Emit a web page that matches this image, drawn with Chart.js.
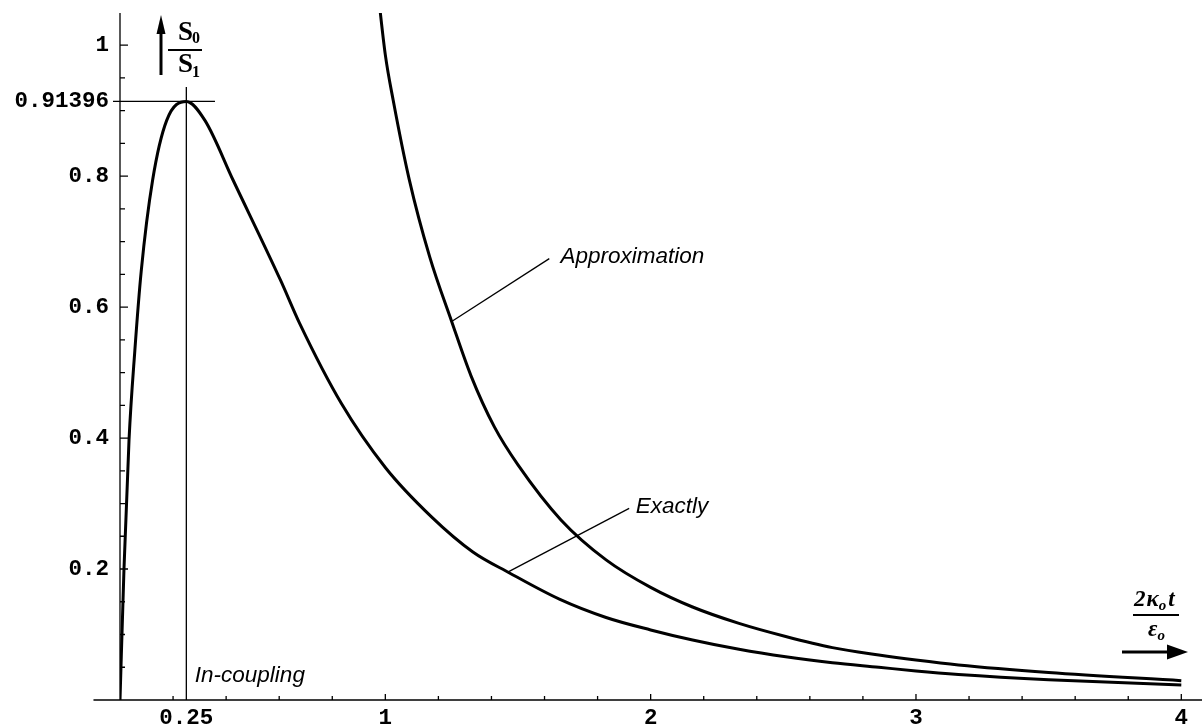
<!DOCTYPE html>
<html><head><meta charset="utf-8">
<script src="https://cdn.jsdelivr.net/npm/chart.js@4/dist/chart.umd.min.js"></script>
<style>html,body{margin:0;padding:0;background:#fff;}canvas{display:block}</style>
</head><body>
<canvas id="c" width="1202" height="728"></canvas>
<script>
// ---- data ----
const exactX = [0, 0.015, 0.034, 0.056, 0.08, 0.123, 0.176, 0.25, 0.32, 0.426, 0.605, 0.677, 0.834, 1.0, 1.173, 1.33, 1.468, 1.656, 1.832, 2.0, 2.158, 2.333, 2.509, 2.685, 2.86, 3.0, 3.16, 3.5, 4.0];
const exactY = [0, 0.2, 0.397, 0.534, 0.655, 0.794, 0.885, 0.91396, 0.885, 0.794, 0.641, 0.575, 0.453, 0.355, 0.280, 0.226, 0.194, 0.154, 0.126, 0.107, 0.0916, 0.0774, 0.066, 0.057, 0.050, 0.0443, 0.039, 0.031, 0.023];
const approxX = [0.97, 1.0, 1.03, 1.09, 1.167, 1.25, 1.323, 1.411, 1.5, 1.662, 1.832, 2.0, 2.158, 2.333, 2.509, 2.685, 2.86, 3.0, 3.16, 3.5, 4.0];
const approxY = [1.09, 0.985, 0.915, 0.795, 0.677, 0.578, 0.495, 0.417, 0.359, 0.275, 0.214, 0.172, 0.142, 0.117, 0.097, 0.080, 0.0687, 0.061, 0.0534, 0.042, 0.0295];
const xTickValues = [0.25, 1, 2, 3, 4];
const xTickLabels = ['0.25', '1', '2', '3', '4'];
const yTickValues = [0.2, 0.4, 0.6, 0.8, 0.91396, 1];
const yTickLabels = ['0.2', '0.4', '0.6', '0.8', '0.91396', '1'];
const peakX = 0.25;
const peakY = 0.91396;
const labelTexts = ['Approximation', 'Exactly', 'In-coupling'];

// ---- build ----
const toPts = (xs, ys) => xs.map((x, i) => ({x, y: ys[i]}));

const notes = [
  {text: labelTexts[0], at: [1.66, 0.667], from: [1.618, 0.674], to: [1.25, 0.578]},
  {text: labelTexts[1], at: [1.944, 0.285], from: [1.919, 0.2927], to: [1.465, 0.196]},
  {text: labelTexts[2], at: [0.282, 0.028]}
];

const TICKFONT = {family: '"Liberation Mono", monospace', weight: 'bold', size: 22.5};

const decor = {
  id: 'decor',
  beforeDatasetsDraw(chart) {
    const {ctx, chartArea: ca, scales: {x: xs, y: ys}} = chart;
    const x0 = xs.getPixelForValue(0), y0 = ys.getPixelForValue(0);
    ctx.save();
    ctx.strokeStyle = '#000';
    ctx.lineWidth = 1.3;
    ctx.beginPath();
    ctx.moveTo(xs.getPixelForValue(-0.1), y0); ctx.lineTo(ca.right, y0);
    ctx.moveTo(x0, ca.top); ctx.lineTo(x0, y0);
    // y ticks (inward)
    for (let k = 1; k <= 21; k++) {
      const v = k * 0.05; if (v > ys.max) break;
      const major = k % 4 === 0;
      const p = ys.getPixelForValue(v);
      ctx.moveTo(x0, p); ctx.lineTo(x0 + (major ? 8 : 5), p);
    }
    // x ticks (inward)
    for (let k = 1; k <= 20; k++) {
      const v = k * 0.2;
      const major = k % 5 === 0;
      const p = xs.getPixelForValue(v);
      ctx.moveTo(p, y0); ctx.lineTo(p, y0 - (major ? 6 : 4));
    }
    ctx.stroke();
    // peak marker lines
    ctx.beginPath();
    const py = ys.getPixelForValue(peakY), px = xs.getPixelForValue(peakX);
    ctx.moveTo(x0 - 7, py); ctx.lineTo(xs.getPixelForValue(0.358), py);
    ctx.moveTo(px, ys.getPixelForValue(0.936)); ctx.lineTo(px, y0);
    ctx.stroke();
    ctx.restore();
  },
  afterDatasetsDraw(chart) {
    const {ctx, chartArea: ca, scales: {x: xs, y: ys}} = chart;
    ctx.save();
    ctx.fillStyle = '#000'; ctx.strokeStyle = '#000';
    // annotations
    ctx.lineWidth = 1.3;
    ctx.font = 'italic 22.5px "Liberation Sans", Arial, sans-serif';
    ctx.textBaseline = 'alphabetic'; ctx.textAlign = 'left';
    notes.forEach(n => {
      if (n.from) {
        ctx.beginPath();
        ctx.moveTo(xs.getPixelForValue(n.from[0]), ys.getPixelForValue(n.from[1]));
        ctx.lineTo(xs.getPixelForValue(n.to[0]), ys.getPixelForValue(n.to[1]));
        ctx.stroke();
      }
      ctx.fillText(n.text, xs.getPixelForValue(n.at[0]), ys.getPixelForValue(n.at[1]));
    });
    // y axis title: arrow + S0/S1
    const x0 = xs.getPixelForValue(0);
    const ax = x0 + 41, t = ca.top;
    ctx.lineWidth = 3;
    ctx.beginPath(); ctx.moveTo(ax, t + 62); ctx.lineTo(ax, t + 18); ctx.stroke();
    ctx.beginPath(); ctx.moveTo(ax - 4.5, t + 21); ctx.lineTo(ax + 4.5, t + 21); ctx.lineTo(ax, t + 2); ctx.closePath(); ctx.fill();
    const fx = x0 + 58;
    ctx.font = 'bold 27px "Liberation Serif", serif';
    ctx.fillText('S', fx, t + 27);
    ctx.fillText('S', fx, t + 59);
    const sw = ctx.measureText('S').width;
    ctx.font = 'bold 16px "Liberation Serif", serif';
    ctx.fillText('0', fx + sw - 1, t + 30);
    ctx.fillText('1', fx + sw - 1, t + 64);
    ctx.fillRect(x0 + 48, t + 36, 34, 2);
    // x axis title
    const r = ca.right, b = ys.getPixelForValue(0);
    ctx.font = 'bold italic 23px "Liberation Serif", serif';
    let cx = r - 68;
    ctx.fillText('2', cx, b - 94); cx += ctx.measureText('2').width + 1;
    ctx.fillText('\u03BA', cx, b - 94); cx += ctx.measureText('\u03BA').width;
    ctx.font = 'bold italic 15px "Liberation Serif", serif';
    ctx.fillText('o', cx, b - 90); cx += ctx.measureText('o').width + 2;
    ctx.font = 'bold italic 23px "Liberation Serif", serif';
    ctx.fillText('t', cx, b - 94);
    ctx.fillRect(r - 69, b - 86, 46, 2);
    ctx.fillText('\u03B5', r - 54, b - 64);
    const ew = ctx.measureText('\u03B5').width;
    ctx.font = 'bold italic 15px "Liberation Serif", serif';
    ctx.fillText('o', r - 54 + ew, b - 60);
    // right arrow
    ctx.lineWidth = 3;
    ctx.beginPath(); ctx.moveTo(r - 80, b - 48); ctx.lineTo(r - 32, b - 48); ctx.stroke();
    ctx.beginPath(); ctx.moveTo(r - 35, b - 55.5); ctx.lineTo(r - 35, b - 40.5); ctx.lineTo(r - 14, b - 48); ctx.closePath(); ctx.fill();
    ctx.restore();
  }
};

new Chart(document.getElementById('c'), {
  type: 'line',
  data: {
    datasets: [
      {label: 'Exactly', data: toPts(exactX, exactY), borderColor: '#000', borderWidth: 3, pointRadius: 0, cubicInterpolationMode: 'monotone', fill: false, clip: 0},
      {label: 'Approximation', data: toPts(approxX, approxY), borderColor: '#000', borderWidth: 3, pointRadius: 0, cubicInterpolationMode: 'monotone', fill: false, clip: 0}
    ]
  },
  options: {
    responsive: false,
    animation: false,
    events: [],
    layout: {padding: {top: 13, left: 0, right: 0, bottom: 0}},
    plugins: {legend: {display: false}, tooltip: {enabled: false}},
    scales: {
      x: {
        type: 'linear', min: 0, max: 4.078,
        grid: {display: false, drawTicks: false}, border: {display: false},
        afterBuildTicks: s => { s.ticks = xTickValues.map(v => ({value: v})); },
        afterFit: s => { s.height = 28; s.paddingLeft = 0; s.paddingRight = 0; },
        ticks: {autoSkip: false, maxRotation: 0, padding: 5, color: '#000', font: TICKFONT,
          callback: (v, i) => xTickLabels[i]}
      },
      y: {
        type: 'linear', min: 0, max: 1.049,
        grid: {display: false, drawTicks: false}, border: {display: false},
        afterBuildTicks: s => { s.ticks = yTickValues.map(v => ({value: v})); },
        afterFit: s => { s.width = 120; s.paddingTop = 0; s.paddingBottom = 0; },
        ticks: {autoSkip: false, padding: 11, color: '#000', font: TICKFONT,
          callback: (v, i) => yTickLabels[i]}
      }
    }
  },
  plugins: [decor]
});
</script>
</body></html>
